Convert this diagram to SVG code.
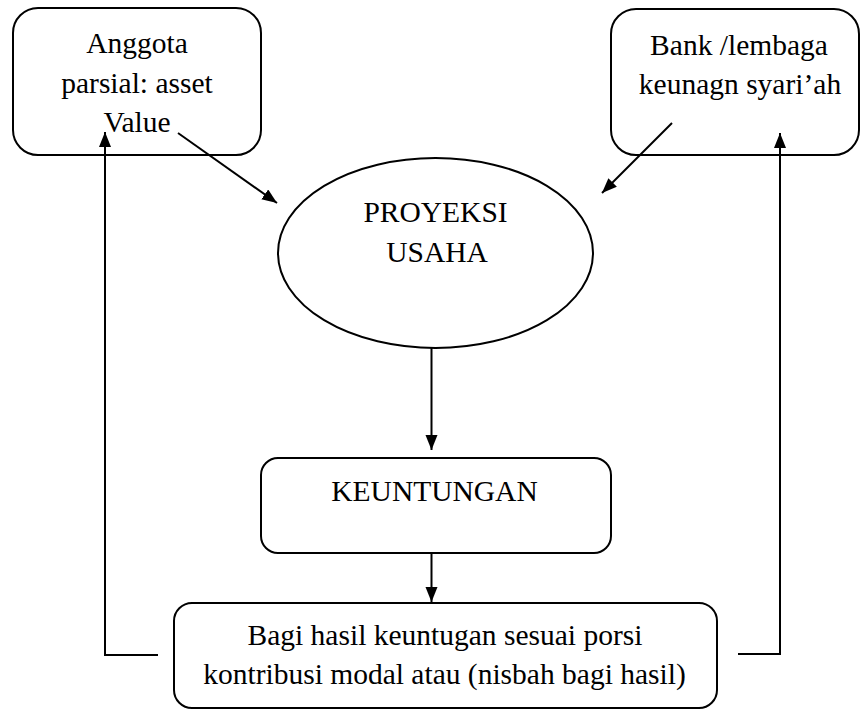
<svg xmlns="http://www.w3.org/2000/svg" width="861" height="711" viewBox="0 0 861 711">
  <style>
    .box { fill: #ffffff; stroke: #000000; stroke-width: 2; }
    .lbl { font-family: "Liberation Serif", serif; font-size: 29.5px; fill: #000000; text-anchor: middle; }
    .con { fill: none; stroke: #000000; stroke-width: 2; }
  </style>
  <defs>
    <marker id="ah" markerUnits="userSpaceOnUse" markerWidth="16" markerHeight="13" refX="15" refY="6" orient="auto">
      <path d="M0,0 L15,6 L0,12 z" fill="#000000"/>
    </marker>
  </defs>
  <rect width="861" height="711" fill="#ffffff"/>

  <g id="node-anggota">
    <rect class="box" x="13" y="8" width="248" height="147" rx="25" ry="25"/>
    <text class="lbl" x="137" y="53">Anggota</text>
    <text class="lbl" x="137" y="93">parsial: asset</text>
    <text class="lbl" x="137" y="132">Value</text>
  </g>

  <g id="node-bank">
    <rect class="box" x="611" y="9" width="248" height="146" rx="25" ry="25"/>
    <text class="lbl" x="739" y="55">Bank /lembaga</text>
    <text class="lbl" x="740" y="94">keunagn syari’ah</text>
  </g>

  <g id="node-proyeksi">
    <ellipse class="box" cx="435.5" cy="253" rx="157.5" ry="95"/>
    <text class="lbl" x="435.5" y="222">PROYEKSI</text>
    <text class="lbl" x="437" y="262">USAHA</text>
  </g>

  <g id="node-keuntungan">
    <rect class="box" x="261" y="458" width="350" height="95" rx="17" ry="17"/>
    <text class="lbl" x="434.5" y="501">KEUNTUNGAN</text>
  </g>

  <g id="node-bagihasil">
    <rect class="box" x="174" y="603" width="543" height="105" rx="18" ry="18"/>
    <text class="lbl" x="445" y="645">Bagi hasil keuntugan sesuai porsi</text>
    <text class="lbl" x="444.5" y="684">kontribusi modal atau (nisbah bagi hasil)</text>
  </g>

  <g id="connectors">
    <line class="con" x1="178" y1="133" x2="277" y2="203" marker-end="url(#ah)"/>
    <line class="con" x1="672" y1="123" x2="602" y2="193" marker-end="url(#ah)"/>
    <line class="con" x1="431.5" y1="348" x2="431.5" y2="450" marker-end="url(#ah)"/>
    <line class="con" x1="431.5" y1="554" x2="431.5" y2="602" marker-end="url(#ah)"/>
    <polyline class="con" points="158,655 105,655 105,132" marker-end="url(#ah)"/>
    <polyline class="con" points="738,654 780,654 780,133" marker-end="url(#ah)"/>
  </g>
</svg>
